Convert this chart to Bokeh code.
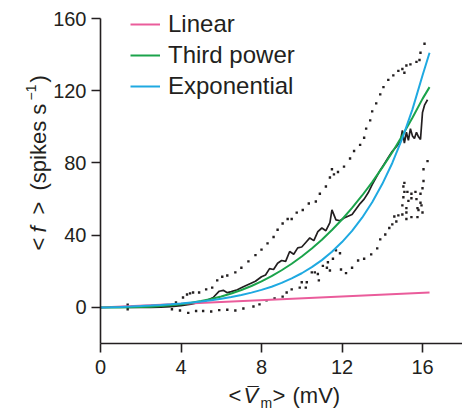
from math import pi
from bokeh.plotting import figure
from bokeh.models import Range1d, FixedTicker, Label, Legend, LegendItem, LinearAxis
from bokeh.embed import file_html
from bokeh.resources import INLINE

# ---------------- data ----------------
mean_v = [1.35, 2.0, 2.5, 3.0, 3.5, 4.0, 4.5, 5.0, 5.3, 5.6, 5.9, 6.1, 6.3, 6.5, 6.8,
          7.1, 7.4, 7.7, 8.0, 8.2, 8.4, 8.6, 8.8, 9.0, 9.2, 9.4, 9.6, 9.8, 10.0, 10.2,
          10.4, 10.6, 10.8, 11.0, 11.2, 11.4, 11.5, 11.7, 11.9, 12.1, 12.3, 12.5, 12.7,
          12.9, 13.1, 13.3, 13.5, 13.7, 13.9, 14.1, 14.3, 14.5, 14.7, 14.9, 15.0, 15.1,
          15.2, 15.3, 15.4, 15.5, 15.6, 15.7, 15.8, 15.9, 16.0, 16.1, 16.25]
mean_f = [0, 0, 0, 0.2, 0.5, 1.0, 1.8, 3.0, 4.0, 5.5, 9.0, 9.5, 8.2, 8.8, 9.8,
          11.5, 13.0, 14.5, 17.0, 18.0, 21.5, 21.0, 24.5, 26.0, 25.5, 31.0, 29.5, 33.0, 33.5, 36.0,
          38.5, 37.0, 42.0, 44.0, 42.5, 47.0, 54.0, 48.5, 48.0, 49.5, 50.5, 51.5, 54.5,
          57.5, 60.0, 63.5, 68.0, 72.0, 76.0, 79.5, 83.0, 86.5, 89.0, 92.0, 98.0, 91.0,
          97.0, 92.5, 99.0, 95.0, 93.5, 97.0, 94.5, 93.0, 108.0, 112.0, 115.0]

upper_v = [1.35, 3.75, 4.1, 4.3, 4.45, 4.6, 4.9, 5.25, 5.55, 5.8,
           6.05, 6.3, 6.7, 7.0, 7.35, 7.7, 8.0, 8.3, 8.6, 8.8,
           9.05, 9.3, 9.5, 9.75, 10.05, 10.35, 10.7, 10.9, 11.2, 11.4,
           11.5, 11.6, 11.8, 12.1, 12.4, 12.6, 12.9, 13.1, 13.2, 13.4,
           13.5, 13.7, 13.9, 14.06, 14.3, 14.55, 14.8, 15.0, 15.1, 15.2,
           15.4, 15.7, 15.85, 15.9, 16.1]
upper_f = [1.5, 2.8, 5.5, 7.2, 7.8, 8.3, 8.3, 10, 11, 15,
           17, 17.7, 19.4, 22, 25.5, 29, 32, 35.5, 39, 43,
           46.5, 49, 49, 52.5, 54, 57.6, 58.7, 63, 67, 72,
           76.5, 73.7, 75, 78, 82.5, 86.6, 90, 94, 99, 103.6,
           108.6, 113, 118, 122, 126, 128.5, 131, 132, 130, 134,
           134.6, 136, 137, 141, 146]

lower_v = [1.35, 3.55, 3.95, 4.36, 4.75, 5.1, 5.5, 5.9, 6.3, 6.7,
           7.1, 7.6, 7.9, 8.25, 8.65, 9.05, 9.25, 9.5, 9.9, 10.0,
           10.2, 10.25, 10.5, 10.65, 10.8, 10.85, 11.05, 11.25, 11.3, 11.4,
           11.55, 11.7, 11.9, 11.95, 12.2, 12.5, 12.8, 13.1, 13.45, 13.75,
           13.9, 14.15, 14.35, 14.5, 14.6, 14.7, 14.8, 15.0, 15.0, 15.05,
           15.1, 15.2, 15.2, 15.2, 15.3, 15.25, 15.45, 15.45, 15.45, 15.65,
           15.7, 15.75, 15.8, 15.75, 15.9, 15.9, 15.95, 16.0, 16.0, 16.05,
           16.05, 16.25, 15.05, 15.1]
lower_f = [-1, -1, -1.7, -3, -2, -2, -2.2, -1.5, -1.3, -1.7,
           -0.6, 0.5, 1.7, 3.9, 5, 6, 8.3, 10, 11, 14,
           11, 14, 19.4, 19.4, 18.5, 15, 23, 22, 25, 20.5,
           27, 31.6, 30, 21, 19, 22, 26, 27, 29.4, 32.7,
           37.7, 40.4, 44, 46, 50.4, 47.6, 51, 51.5, 56.5, 61,
           64, 55, 52.6, 49, 59, 64, 63, 50, 60.5, 64,
           60, 55, 54, 50, 63, 58, 56.5, 52.6, 66, 70,
           76.5, 81, 67, 69]

fit_v = [0, 0.5, 1, 1.5, 2, 2.5, 3, 3.5, 4, 4.5, 5, 5.5, 6, 6.5, 7, 7.5, 8, 8.5,
         9, 9.5, 10, 10.5, 11, 11.5, 12, 12.5, 13, 13.5, 14, 14.5, 15, 15.5, 16, 16.35]
cubic_f = [0, 0.0, 0.03, 0.1, 0.23, 0.44, 0.76, 1.21, 1.8, 2.57, 3.53, 4.69, 6.09, 7.74,
           9.67, 11.9, 14.4, 17.3, 20.6, 24.2, 28.2, 32.6, 37.5, 42.9, 48.7, 55.1, 62.0,
           69.4, 77.4, 86.0, 95.2, 105.0, 115.5, 122.0]
exp_f = [0, 0.15, 0.32, 0.52, 0.76, 1.03, 1.35, 1.73, 2.17, 2.68, 3.28, 3.99, 4.81, 5.77,
         6.89, 8.21, 9.74, 11.5, 13.6, 16.1, 18.95, 22.3, 26.2, 30.8, 36.2, 42.4, 49.7,
         58.3, 68.3, 80.0, 93.7, 109.7, 128.4, 141.0]
linear_v = [0, 16.35]
linear_f = [0, 8.3]

x_ticks = [0, 4, 8, 12, 16]
y_ticks = [0, 40, 80, 120, 160]
x_bounds = (0, 18)
y_bounds = (-20, 160)
legend_labels = ["Linear", "Third power", "Exponential"]

# ---------------- figure ----------------
INK = "#231f20"
PINK = "#ea5c9b"
GREEN = "#1ba34b"
BLUE = "#1fa9e1"
FONT = "Liberation Sans"

W, H = 462, 410
X0, XS = 100, 20.125      # page px of v=0, px per mV
Y0, YS = 18, 1.806        # page px of f=160, px per spike/s


def dx(px):
    return (px - X0) / XS


def dy(py):
    return 160 - (py - Y0) / YS


# the frame covers the whole canvas; axes sit at fixed data locations inside it
p = figure(width=W, height=H, output_backend="svg", toolbar_location=None,
           x_range=Range1d(dx(0), dx(W)), y_range=Range1d(dy(H), dy(0)),
           x_axis_location=None, y_axis_location=None,
           min_border=0, min_border_left=0, min_border_right=0,
           min_border_top=0, min_border_bottom=0)
p.outline_line_color = None
p.grid.visible = False
p.background_fill_color = "white"

xaxis = LinearAxis(fixed_location=y_bounds[0], bounds=x_bounds)
yaxis = LinearAxis(fixed_location=x_bounds[0], bounds=y_bounds)
p.add_layout(xaxis, "below")
p.add_layout(yaxis, "left")

for ax, ticks, standoff in ((xaxis, x_ticks, 7), (yaxis, y_ticks, 5)):
    ax.ticker = FixedTicker(ticks=ticks)
    ax.minor_tick_line_color = None
    ax.major_tick_in = 0
    ax.major_tick_out = 9
    ax.major_tick_line_width = 1.6
    ax.major_tick_line_color = INK
    ax.axis_line_width = 1.6
    ax.axis_line_color = INK
    ax.major_label_text_font = FONT
    ax.major_label_text_font_size = "20px"
    ax.major_label_text_color = INK
    ax.major_label_standoff = standoff

# dotted envelopes
p.scatter(upper_v, upper_f, marker="square", size=2.4, fill_color=INK, line_color=None)
p.scatter(lower_v, lower_f, marker="square", size=2.4, fill_color=INK, line_color=None)

# mean rate
p.line(mean_v, mean_f, line_color=INK, line_width=1.7)

r_lin = p.line(linear_v, linear_f, line_color=PINK, line_width=2.0)
r_cub = p.line(fit_v, cubic_f, line_color=GREEN, line_width=2.0)
r_exp = p.line(fit_v, exp_f, line_color=BLUE, line_width=2.0)

legend = Legend(items=[LegendItem(label=legend_labels[0], renderers=[r_lin]),
                       LegendItem(label=legend_labels[1], renderers=[r_cub]),
                       LegendItem(label=legend_labels[2], renderers=[r_exp])],
                location=(130, H - 100), border_line_color=None, background_fill_alpha=0,
                label_text_font=FONT, label_text_font_size="24px", label_text_color=INK,
                glyph_width=30, glyph_height=24, label_height=24, spacing=3,
                padding=0, margin=0, label_standoff=8)
p.add_layout(legend)


# ---------------- axis labels (pieces, placed in page pixels) ----------------
def piece(text, px, py, size="22px", style="normal", angle=0.0, baseline="alphabetic"):
    p.add_layout(Label(x=dx(px), y=dy(py), text=text, angle=angle,
                       text_font=FONT, text_font_size=size, text_font_style=style,
                       text_color=INK, text_align="left", text_baseline=baseline))


# y label: "< f > (spikes s-1)"  rotated
YB = 38
piece("<", YB, 250, angle=pi / 2)
piece("f", YB, 232, style="italic", angle=pi / 2)
piece(">", YB, 214, angle=pi / 2)
piece("(spikes s", YB, 190, angle=pi / 2)
piece("\u22121", YB - 8, 100, size="14px", angle=pi / 2)
piece(")", YB, 82, angle=pi / 2)

# x label: "<V̄m> (mV)"
XB = 395
piece("<", 228, XB)
piece("V", 243, XB, style="italic")
piece("\u00af", 247, XB - 2, size="20px")
piece("m", 260, XB + 7, size="14px")
piece(">", 272, XB)
piece("(mV)", 292, XB)

open("out.html", "w").write(file_html(p, INLINE))
